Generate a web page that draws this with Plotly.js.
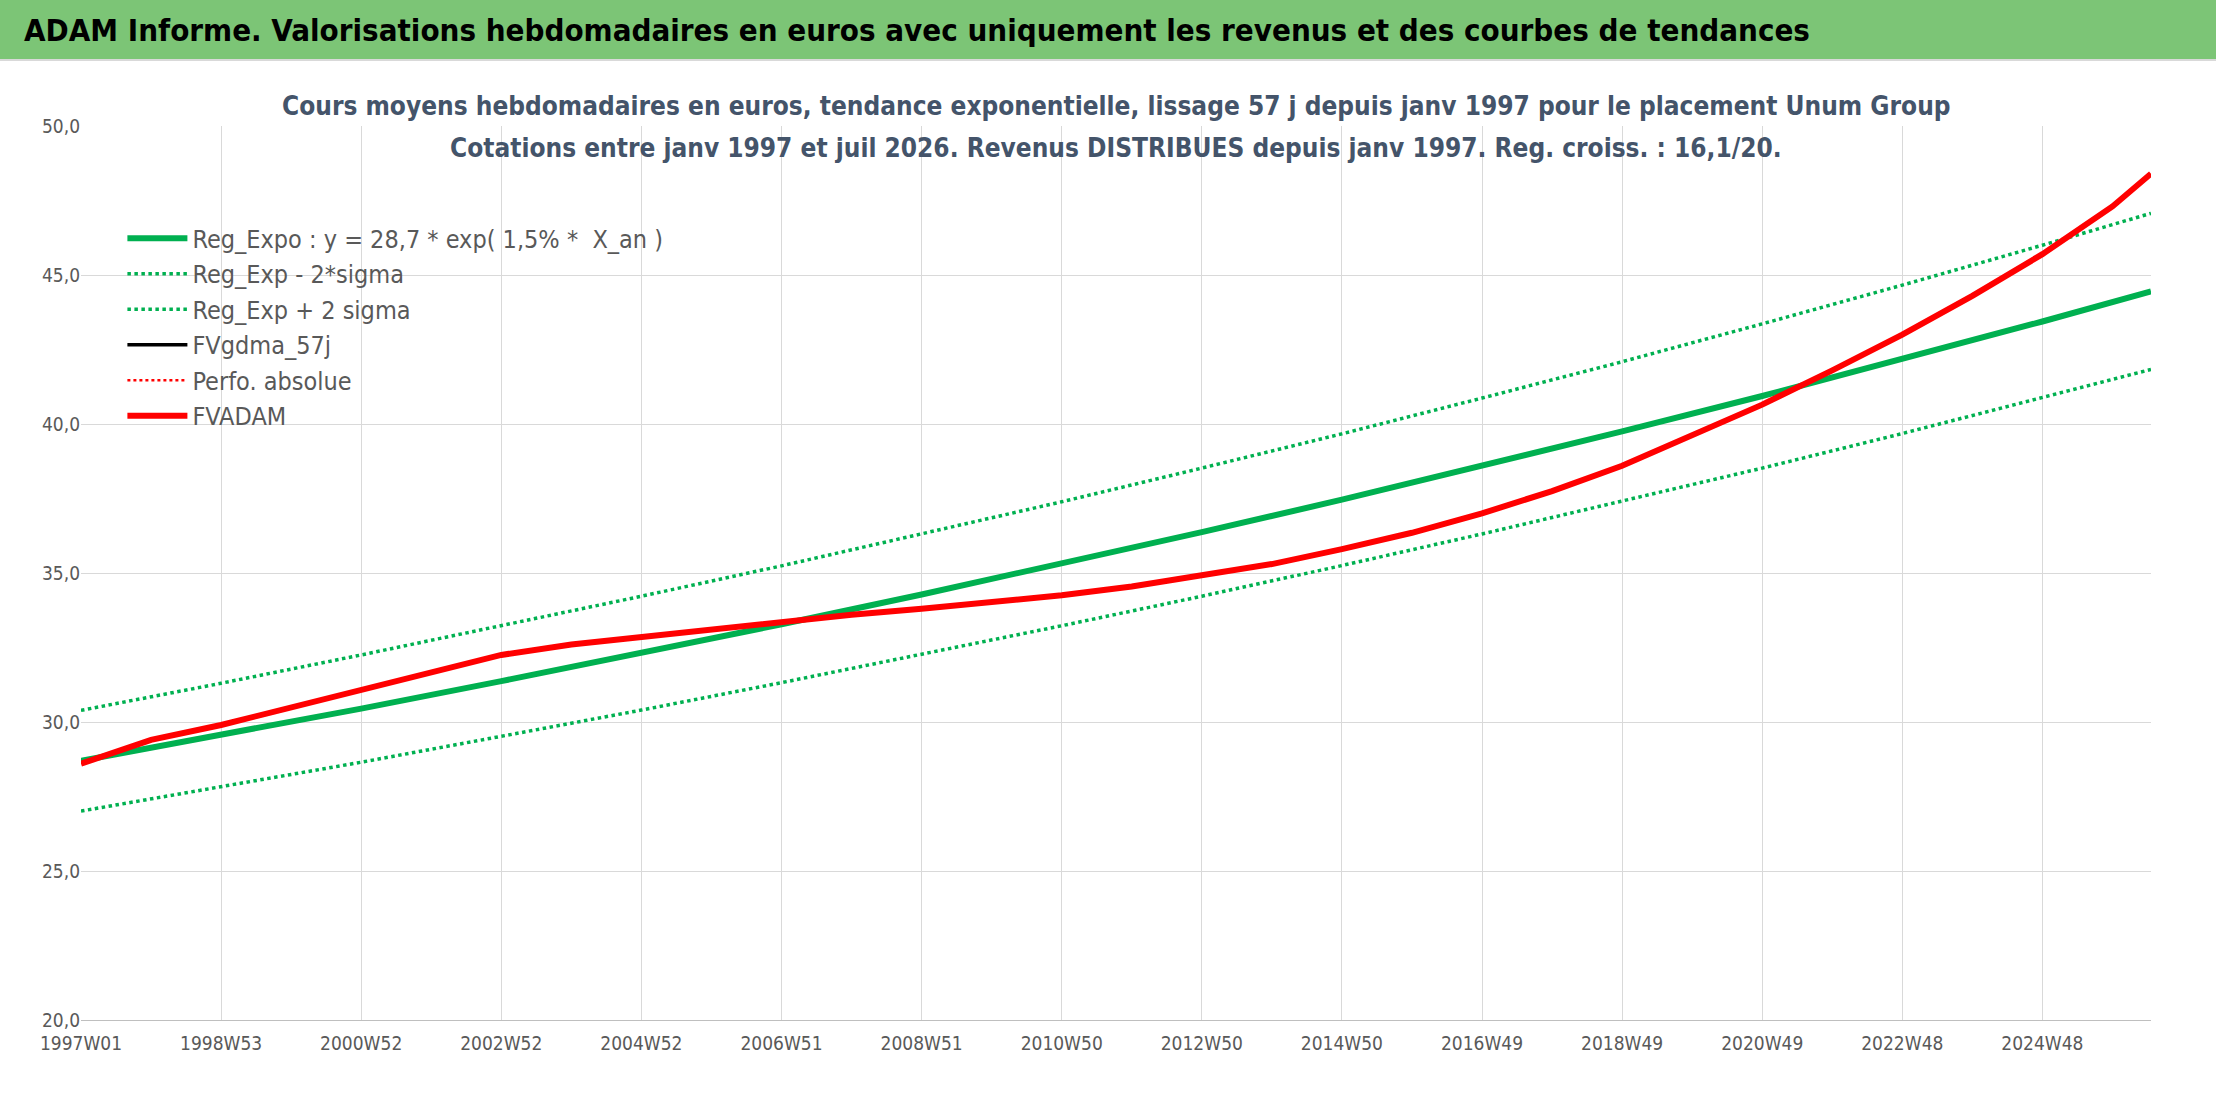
<!DOCTYPE html>
<html><head><meta charset="utf-8">
<script src="https://cdn.plot.ly/plotly-3.0.1.min.js"></script>
<style>
body{margin:0;background:#fff;}
#hdr{position:absolute;left:0;top:0;width:2216px;height:61px;background:#7cc576;border-bottom:2px solid #d9d9d9;
 font:bold 31px "Liberation Sans Narrow","DejaVu Sans Condensed",sans-serif;line-height:61px;padding-left:24px;box-sizing:border-box;color:#000;}
#chart{position:absolute;left:0;top:61px;width:2216px;height:1045px;}
</style></head><body>
<div id="hdr">ADAM Informe. Valorisations hebdomadaires en euros avec uniquement les revenus et des courbes de tendances</div>
<div id="chart"></div>
<script>
// x in years since 1997W01
const trendX = [0,2,4,6,8,10,12,14,16,18,20,22,24,26,28,29.55];
const regExpo = [28.7,29.56,30.45,31.37,32.31,33.28,34.28,35.31,36.37,37.46,38.59,39.75,40.94,42.17,43.44,44.45];
const regLow  = [27.01,27.82,28.65,29.52,30.40,31.32,32.26,33.23,34.22,35.25,36.31,37.41,38.52,39.68,40.88,41.83];
const regHigh = [30.39,31.30,32.25,33.22,34.22,35.24,36.30,37.39,38.52,39.67,40.87,42.09,43.36,44.66,46.00,47.07];

const adamX = [0,1,2,3,4,5,6,7,8,9,10,11,12,13,14,15,16,17,18,19,20,21,22,23,24,25,26,27,28,29,29.55];
const fvadam = [28.6,29.4,29.9,30.5,31.1,31.7,32.25,32.6,32.85,33.1,33.4,33.6,33.8,34.0,34.25,34.55,34.9,35.3,35.8,36.35,37.0,37.75,38.6,39.6,40.65,41.8,43.0,44.3,45.7,47.3,48.4];

const tickVals = [0,2,4,6,8,10,12,14,16,18,20,22,24,26,28];
const tickText = ["1997W01","1998W53","2000W52","2002W52","2004W52","2006W51","2008W51","2010W50","2012W50","2014W50","2016W49","2018W49","2020W49","2022W48","2024W48"];

const GREEN = "#00b050";
const traces = [
  {x:trendX, y:regExpo, name:"Reg_Expo : y = 28,7 * exp( 1,5% *  X_an )", mode:"lines", line:{color:GREEN,width:6}},
  {x:trendX, y:regLow, name:"Reg_Exp - 2*sigma", mode:"lines", line:{color:GREEN,width:3.5,dash:"dot"}},
  {x:trendX, y:regHigh, name:"Reg_Exp + 2 sigma", mode:"lines", line:{color:GREEN,width:3.5,dash:"dot"}},
  {x:[null], y:[null], name:"FVgdma_57j", mode:"lines", line:{color:"#000",width:3.5}},
  {x:[null], y:[null], name:"Perfo. absolue", mode:"lines", line:{color:"#ff0000",width:2.5,dash:"dot"}},
  {x:adamX, y:fvadam, name:"FVADAM", mode:"lines", line:{color:"#ff0000",width:6}}
];
const tfont = {family:"Liberation Sans Narrow, DejaVu Sans Condensed, sans-serif", size:26, color:"#44546a"};
const layout = {
  width:2216, height:1045,
  margin:{l:81,r:65,t:65,b:86},
  paper_bgcolor:"#fff", plot_bgcolor:"#fff",
  font:{family:"Liberation Sans Narrow, DejaVu Sans Condensed, sans-serif", color:"#595959"},
  xaxis:{range:[0,29.55], tickvals:tickVals, ticktext:tickText, showgrid:true, gridcolor:"#d9d9d9",
    zeroline:false, showline:true, linecolor:"#bfbfbf", ticks:"outside", ticklen:6, tickcolor:"#fff",
    tickfont:{size:19,color:"#595959"}},
  yaxis:{range:[20,50], dtick:5, tickformat:".1f", showgrid:true, gridcolor:"#d9d9d9",
    zeroline:false, tickfont:{size:19,color:"#595959"}},
  separators:", ",
  showlegend:true,
  legend:{x:0.02, y:0.9, xanchor:"left", yanchor:"top", bgcolor:"rgba(255,255,255,0)",
    font:{size:25,color:"#595959"}, itemwidth:60, tracegroupgap:0},
  annotations:[
    {xref:"paper",yref:"paper",x:0.5,y:1.022,xanchor:"center",yanchor:"middle",showarrow:false,
     text:"<b>Cours moyens hebdomadaires en euros, tendance exponentielle, lissage 57 j depuis janv 1997 pour le placement Unum Group</b>",font:tfont},
    {xref:"paper",yref:"paper",x:0.5,y:0.975,xanchor:"center",yanchor:"middle",showarrow:false,
     text:"<b>Cotations entre janv 1997 et juil 2026. Revenus DISTRIBUES depuis janv 1997. Reg. croiss. : 16,1/20.</b>",font:tfont}
  ]
};
Plotly.newPlot("chart", traces, layout, {displayModeBar:false});
</script>
</body></html>
